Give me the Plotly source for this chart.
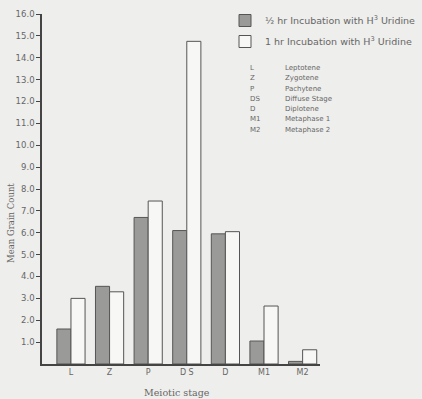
import plotly.graph_objects as go

stages = ["L", "Z", "P", "D S", "D", "M1", "M2"]
half_hr = [1.6, 3.55, 6.7, 6.1, 5.95, 1.05, 0.12]
one_hr = [3.0, 3.3, 7.45, 14.75, 6.05, 2.65, 0.65]
y_ticks = [1, 2, 3, 4, 5, 6, 7, 8, 9, 10, 11, 12, 13, 14, 15, 16]
y_labels = ["1.0", "2.0", "3.0", "4.0", "5.0", "6.0", "7.0", "8.0", "9.0",
            "10.0", "11.0", "12.0", "13.0", "14.0", "15.0", "16.0"]
abbrevs = ["L", "Z", "P", "DS", "D", "M1", "M2"]
abbrev_names = ["Leptotene", "Zygotene", "Pachytene", "Diffuse Stage",
                "Diplotene", "Metaphase 1", "Metaphase 2"]

BG = "#eeeeec"
INK = "#555555"
TXT = "#666666"
SANS = "DejaVu Sans"
SERIF = "DejaVu Serif"

fig = go.Figure()
fig.add_trace(go.Bar(
    x=stages, y=half_hr, name="½ hr Incubation with H<sup>3</sup> Uridine",
    legendgroup="a",
    marker=dict(color="#9a9a98", line=dict(color=INK, width=1)),
))
fig.add_trace(go.Bar(
    x=stages, y=one_hr, name="1 hr Incubation with H<sup>3</sup> Uridine",
    legendgroup="b",
    marker=dict(color="#f7f7f5", line=dict(color=INK, width=1)),
))

L, R, T, B = 42, 102, 14, 35
W, H = 422, 399
pw, ph = W - L - R, H - T - B


def px_x(x):
    return (x - L) / pw


def px_y(y):
    return (H - B - y) / ph


for i, (a, n) in enumerate(zip(abbrevs, abbrev_names)):
    yp = px_y(68 + i * 10.3)
    fig.add_annotation(text=a, x=px_x(248), y=yp, xref="paper", yref="paper",
                       xanchor="left", yanchor="middle", showarrow=False,
                       font=dict(size=7, color=TXT, family=SANS))
    fig.add_annotation(text=n, x=px_x(283), y=yp, xref="paper", yref="paper",
                       xanchor="left", yanchor="middle", showarrow=False,
                       font=dict(size=7, color=TXT, family=SANS))

fig.add_annotation(text="Mean Grain Count", x=px_x(11), y=px_y(223),
                   xref="paper", yref="paper", textangle=-90, showarrow=False,
                   xanchor="center", yanchor="middle",
                   font=dict(size=8.5, color=TXT, family=SERIF))
fig.add_annotation(text="Meiotic stage", x=px_x(177), y=px_y(392),
                   xref="paper", yref="paper", showarrow=False,
                   xanchor="center", yanchor="middle",
                   font=dict(size=9.5, color=TXT, family=SERIF))

fig.update_layout(
    width=W, height=H,
    margin=dict(l=L, r=R, t=T, b=B, autoexpand=False),
    paper_bgcolor=BG, plot_bgcolor=BG,
    barmode="group", bargap=0.27, bargroupgap=0,
    font=dict(family=SANS, color=TXT, size=8),
    legend=dict(x=px_x(225), y=px_y(6), xanchor="left", yanchor="top",
                bgcolor="rgba(0,0,0,0)", font=dict(size=9.5, color=TXT, family=SANS),
                itemwidth=30, tracegroupgap=2, traceorder="grouped"),
    xaxis=dict(range=[-0.75, 6.45], showline=True, linecolor="#444", linewidth=1.5,
               ticks="", showgrid=False, tickfont=dict(size=8, color=TXT)),
    yaxis=dict(range=[0, 16], tickvals=y_ticks, ticktext=y_labels, showline=True,
               linecolor="#444", linewidth=1.5, ticks="outside", ticklen=4,
               tickcolor="#444", showgrid=False, zeroline=False,
               tickfont=dict(size=8.5, color=TXT)),
)

fig.write_html(
    "out.html",
    config={"displayModeBar": False},
    post_script="document.body.style.margin='0';document.body.style.background='#eeeeec';",
)
